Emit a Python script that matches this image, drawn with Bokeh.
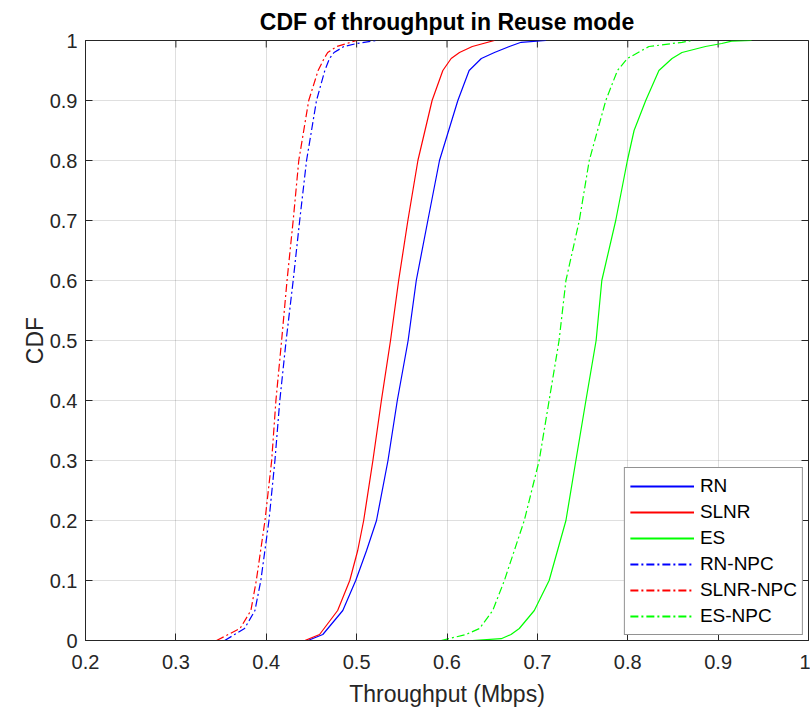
import math
from bokeh.plotting import figure
from bokeh.models import Range1d, FixedTicker
from bokeh.embed import file_html
from bokeh.resources import INLINE

# ---------------- data ----------------
series_names = ["RN", "SLNR", "ES", "RN-NPC", "SLNR-NPC", "ES-NPC"]

rn_cdf = [0, 0.01, 0.05, 0.1, 0.15, 0.2, 0.3, 0.4, 0.5, 0.6, 0.7, 0.8, 0.9, 0.95, 0.97, 0.98, 0.99, 0.997, 1.0]
rn_x = [0.446, 0.4626, 0.4847, 0.499, 0.511, 0.522, 0.5347, 0.545, 0.557, 0.566, 0.5788, 0.5917, 0.612, 0.6245,
        0.638, 0.6525, 0.669, 0.682, 0.7095]

slnr_cdf = [0, 0.01, 0.05, 0.1, 0.15, 0.2, 0.3, 0.4, 0.5, 0.6, 0.7, 0.8, 0.9, 0.95, 0.97, 0.98, 0.99, 1.0]
slnr_x = [0.4427, 0.459, 0.479, 0.4924, 0.5012, 0.5078, 0.518, 0.5274, 0.5375, 0.5465, 0.5567, 0.5678, 0.5835,
          0.5954, 0.6046, 0.6138, 0.628, 0.6525]

es_cdf = [0, 0.003, 0.01, 0.02, 0.05, 0.1, 0.15, 0.2, 0.3, 0.4, 0.5, 0.6, 0.7, 0.8, 0.85, 0.9, 0.95, 0.97, 0.98,
          0.99, 0.995, 0.999, 1.0]
es_x = [0.628, 0.66, 0.6708, 0.68, 0.6966, 0.713, 0.7223, 0.7316, 0.7426, 0.7537, 0.765, 0.7713, 0.7867, 0.7996,
        0.807, 0.8199, 0.8345, 0.849, 0.86, 0.886, 0.904, 0.915, 0.937]

rn_npc_cdf = [0, 0.02, 0.05, 0.1, 0.2, 0.3, 0.4, 0.5, 0.6, 0.7, 0.8, 0.9, 0.95, 0.97, 0.98, 0.99, 0.995, 1.0]
rn_npc_x = [0.354, 0.376, 0.3875, 0.394, 0.403, 0.4096, 0.415, 0.422, 0.4298, 0.437, 0.4446, 0.4556, 0.4648,
            0.470, 0.475, 0.486, 0.500, 0.522]

slnr_npc_cdf = [0, 0.02, 0.05, 0.1, 0.2, 0.3, 0.4, 0.5, 0.6, 0.7, 0.8, 0.9, 0.95, 0.97, 0.98, 0.99, 1.0]
slnr_npc_x = [0.345, 0.371, 0.383, 0.389, 0.3986, 0.406, 0.4107, 0.417, 0.423, 0.4298, 0.436, 0.447, 0.4574,
              0.464, 0.468, 0.478, 0.500]

es_npc_cdf = [0, 0.01, 0.02, 0.05, 0.1, 0.15, 0.2, 0.3, 0.4, 0.5, 0.6, 0.7, 0.8, 0.9, 0.95, 0.97, 0.99, 0.997, 1.0]
es_npc_x = [0.5936, 0.621, 0.636, 0.6506, 0.6635, 0.6745, 0.6855, 0.702, 0.713, 0.724, 0.7316, 0.7464, 0.7574,
            0.7757, 0.7886, 0.7996, 0.8235, 0.86, 0.871]

x_ticks = [0.2, 0.3, 0.4, 0.5, 0.6, 0.7, 0.8, 0.9, 1.0]
x_tick_labels = ["0.2", "0.3", "0.4", "0.5", "0.6", "0.7", "0.8", "0.9", "1"]
y_ticks = [0.0, 0.1, 0.2, 0.3, 0.4, 0.5, 0.6, 0.7, 0.8, 0.9, 1.0]
y_tick_labels = ["0", "0.1", "0.2", "0.3", "0.4", "0.5", "0.6", "0.7", "0.8", "0.9", "1"]

title_text = "CDF of throughput in Reuse mode"
x_label = "Throughput (Mbps)"
y_label = "CDF"

# ---------------- styling ----------------
FONT = "Liberation Sans"
AX = "#262626"
X0, X1, Y0, Y1 = x_ticks[0], x_ticks[-1], y_ticks[0], y_ticks[-1]

p = figure(width=810, height=709, output_backend="svg", toolbar_location=None,
           x_range=Range1d(X0, X1), y_range=Range1d(Y0, Y1),
           min_border_left=85, min_border_right=2, min_border_top=40, min_border_bottom=69)
p.background_fill_color = "white"
p.border_fill_color = "white"
p.outline_line_color = AX
p.outline_line_width = 1

p.title.text = title_text
p.title.align = "center"
p.title.text_font = FONT
p.title.text_font_size = "23px"
p.title.text_font_style = "bold"
p.title.text_color = "black"
p.title.standoff = 12

for ax, ticks, labels in ((p.xaxis[0], x_ticks, x_tick_labels), (p.yaxis[0], y_ticks, y_tick_labels)):
    ax.ticker = FixedTicker(ticks=ticks)
    ax.major_label_overrides = dict(zip(ticks, labels))
    ax.major_tick_in = 7
    ax.major_tick_out = 0
    ax.minor_tick_in = 0
    ax.minor_tick_out = 0
    ax.axis_line_color = AX
    ax.major_tick_line_color = AX
    ax.major_label_text_font = FONT
    ax.major_label_text_font_size = "20px"
    ax.major_label_text_color = AX
    ax.axis_label_text_font = FONT
    ax.axis_label_text_font_size = "23px"
    ax.axis_label_text_font_style = "normal"
    ax.axis_label_text_color = AX

p.xaxis[0].axis_label = x_label
p.yaxis[0].axis_label = y_label
p.xaxis[0].major_label_standoff = 14
p.xaxis[0].axis_label_standoff = 9
p.yaxis[0].major_label_standoff = 8
p.yaxis[0].axis_label_standoff = -1

p.xgrid.ticker = FixedTicker(ticks=x_ticks)
p.ygrid.ticker = FixedTicker(ticks=y_ticks)
for g in (p.xgrid, p.ygrid):
    g.grid_line_color = AX
    g.grid_line_alpha = 0.15
    g.grid_line_width = 1

# inward ticks on the top and right edges of the box (half of each dash is clipped by the frame)
p.scatter(x=[X1] * len(y_ticks), y=y_ticks, marker="dash", size=14, line_color=AX, line_width=1)
p.scatter(x=x_ticks, y=[Y1] * len(x_ticks), marker="dash", size=14, angle=math.pi / 2,
          line_color=AX, line_width=1)

DASHDOT = "8 3 2 3"
specs = [
    (rn_x, rn_cdf, "#0000ff", "solid"),
    (slnr_x, slnr_cdf, "#ff0000", "solid"),
    (es_x, es_cdf, "#00ff00", "solid"),
    (rn_npc_x, rn_npc_cdf, "#0000ff", DASHDOT),
    (slnr_npc_x, slnr_npc_cdf, "#ff0000", DASHDOT),
    (es_npc_x, es_npc_cdf, "#00ff00", DASHDOT),
]
for name, (xs, ys, col, dash) in zip(series_names, specs):
    p.line(xs, ys, line_color=col, line_width=1.2, line_dash=dash)
# legend samples: one-point (invisible, off-range) renderers with the same colour / dash,
# drawn slightly thicker so the legend strokes render in colour
for name, (xs, ys, col, dash) in zip(series_names, specs):
    p.line([X0 - 1.0], [Y0 - 1.0], line_color=col, line_width=2, line_dash=dash, legend_label=name)

lg = p.legend[0]
lg.location = "bottom_right"
lg.margin = 5
lg.padding = 5
lg.spacing = 0
lg.glyph_width = 64
lg.glyph_height = 26
lg.label_height = 26
lg.label_standoff = 6
lg.label_text_font = FONT
lg.label_text_font_size = "19px"
lg.label_text_color = "black"
lg.border_line_color = AX
lg.border_line_width = 1
lg.background_fill_color = "white"
lg.background_fill_alpha = 1.0

open("out.html", "w").write(file_html(p, INLINE))
